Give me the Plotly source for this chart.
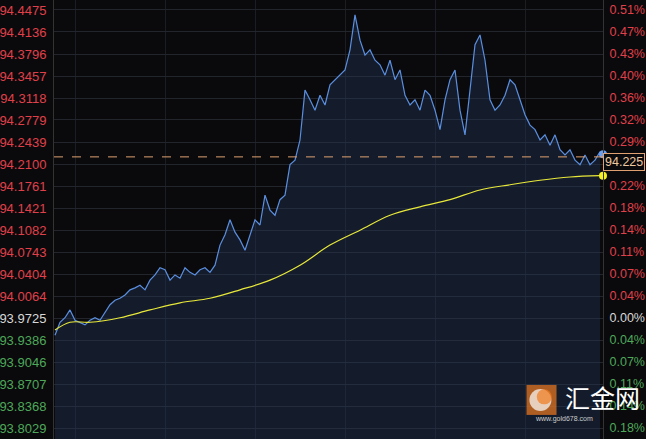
import plotly.graph_objects as go

base = 93.9725
last_price = 94.225

price = [
    93.946, 93.966, 93.973, 93.985, 93.969, 93.966, 93.962, 93.969, 93.973, 93.969,
    93.982, 93.993, 94.000, 94.003, 94.008, 94.016, 94.019, 94.023, 94.016, 94.031,
    94.039, 94.050, 94.047, 94.031, 94.039, 94.034, 94.050, 94.043, 94.039, 94.047,
    94.050, 94.043, 94.054, 94.085, 94.101, 94.124, 94.105, 94.093, 94.077, 94.101,
    94.124, 94.116, 94.162, 94.139, 94.131, 94.155, 94.162, 94.209, 94.216, 94.247,
    94.324, 94.309, 94.293, 94.316, 94.301, 94.332, 94.340, 94.347, 94.355, 94.386,
    94.440, 94.401, 94.378, 94.386, 94.370, 94.363, 94.347, 94.370, 94.340, 94.355,
    94.316, 94.301, 94.309, 94.293, 94.324, 94.316, 94.293, 94.263, 94.309, 94.340,
    94.355, 94.293, 94.255, 94.324, 94.394, 94.409, 94.370, 94.309, 94.293, 94.301,
    94.316, 94.340, 94.332, 94.309, 94.286, 94.270, 94.263, 94.247, 94.255, 94.239,
    94.255, 94.232, 94.224, 94.232, 94.216, 94.209, 94.224, 94.209, 94.216, 94.229,
]

avg_x = [0, 3, 7, 13, 19, 25, 31, 37, 43, 49, 55, 61, 67, 73, 79, 85, 91, 97, 103, 109]
avg_price = [93.954, 93.966, 93.966, 93.973, 93.985, 93.996, 94.003, 94.016, 94.031, 94.054,
             94.085, 94.108, 94.131, 94.144, 94.155, 94.170, 94.178, 94.185, 94.190, 94.192]

left_ticks = [94.4475, 94.4136, 94.3796, 94.3457, 94.3118, 94.2779, 94.2439, 94.2100, 94.1761,
              94.1421, 94.1082, 94.0743, 94.0404, 94.0064, 93.9725, 93.9386, 93.9046, 93.8707,
              93.8368, 93.8029]
right_labels = ["0.51%", "0.47%", "0.43%", "0.40%", "0.36%", "0.32%", "0.29%", "", "0.22%",
                "0.18%", "0.14%", "0.11%", "0.07%", "0.04%", "0.00%", "0.04%", "0.07%",
                "0.11%", "0.14%", "0.18%"]

RED, GREEN, WHITE = "#e0404a", "#4ea85a", "#d8d8d8"


def col(v):
    if abs(v - base) < 1e-6:
        return WHITE
    return RED if v > base else GREEN


left_text = [f"<span style='color:{col(v)}'>{v:.4f}</span>" for v in left_ticks]
right_text = [f"<span style='color:{col(v)}'>{t}</span>" for v, t in zip(left_ticks, right_labels)]

xs = list(range(len(price)))
yrange = [93.786, 94.4629]
xrange = [-0.2, 109.6]

fig = go.Figure()
fig.add_trace(go.Scatter(x=xs, y=price, mode="lines", line=dict(color="#5b8fe0", width=1.2),
                         fill="tozeroy", fillcolor="rgba(35,55,90,0.4)"))
fig.add_trace(go.Scatter(x=avg_x, y=avg_price, mode="lines", line=dict(color="#e8e83a", width=1.2,
                                                                      shape="spline")))
fig.add_trace(go.Scatter(x=[xs[-1] + 0.6], y=[last_price], mode="markers",
                         marker=dict(color="#6a9ef0", size=8), cliponaxis=False))
fig.add_trace(go.Scatter(x=[xs[-1] + 0.6], y=[avg_price[-1]], mode="markers",
                         marker=dict(color="#f5f020", size=8), cliponaxis=False))
fig.add_trace(go.Scatter(x=[0], y=[base], yaxis="y2", mode="markers", opacity=0))

# logo (overlay axes in paper units)
fig.add_trace(go.Scatter(x=[0.888, 0.886, 0.893], y=[0.089, 0.089, 0.096], xaxis="x2", yaxis="y3",
                         mode="markers", cliponaxis=False,
                         marker=dict(symbol=["square", "circle", "circle"], size=[30, 22, 15],
                                     color=["#f07a20", "#ffffff", "#f07a20"], line=dict(width=0))))

fig.add_hline(y=94.221, line=dict(color="#e0a070", width=1, dash="dash"))

fig.update_layout(
    width=646, height=439, showlegend=False,
    paper_bgcolor="#0a0a0c", plot_bgcolor="#0a0a0c",
    margin=dict(l=54, r=43, t=0, b=0, autoexpand=False),
    font=dict(family="Liberation Sans, Arial", size=12),
    xaxis=dict(range=xrange, showticklabels=False, showgrid=True, gridcolor="#1a1d24",
               dtick=18, tick0=4, zeroline=False, showline=False, automargin=False),
    xaxis2=dict(range=[0, 1], overlaying="x", visible=False),
    yaxis3=dict(range=[0, 1], overlaying="y", visible=False),
    yaxis=dict(range=yrange, tickvals=left_ticks, ticktext=left_text, gridcolor="#22252b",
               zeroline=False, showline=True, linecolor="#333", ticks="",
               tickfont=dict(size=13), automargin=False, ticklabelstandoff=4),
    yaxis2=dict(range=yrange, overlaying="y", side="right", tickvals=left_ticks,
                ticktext=right_text, showgrid=False, zeroline=False, showline=True,
                linecolor="#333", automargin=False, tickfont=dict(size=12.5),
                ticklabelstandoff=3),
    annotations=[
        dict(xref="paper", yref="y", x=1.0, y=94.2125, xanchor="left", text="94.225",
             showarrow=False, font=dict(color="#f0c8a0", size=12.5), bgcolor="#0a0a0c",
             bordercolor="#e0a070", borderwidth=1, borderpad=1),
        dict(xref="paper", yref="paper", x=0.928, y=0.096, xanchor="left", yanchor="middle",
             text="汇金网", showarrow=False,
             font=dict(color="#ffffff", size=25, family="Noto Sans CJK SC")),
        dict(xref="paper", yref="paper", x=0.872, y=0.046, xanchor="left", yanchor="middle",
             text="www.gold678.com", showarrow=False,
             font=dict(color="#cccccc", size=7)),
    ],
)

fig.write_html("out.html", config={"displayModeBar": False},
               post_script="document.body.style.margin='0';")
